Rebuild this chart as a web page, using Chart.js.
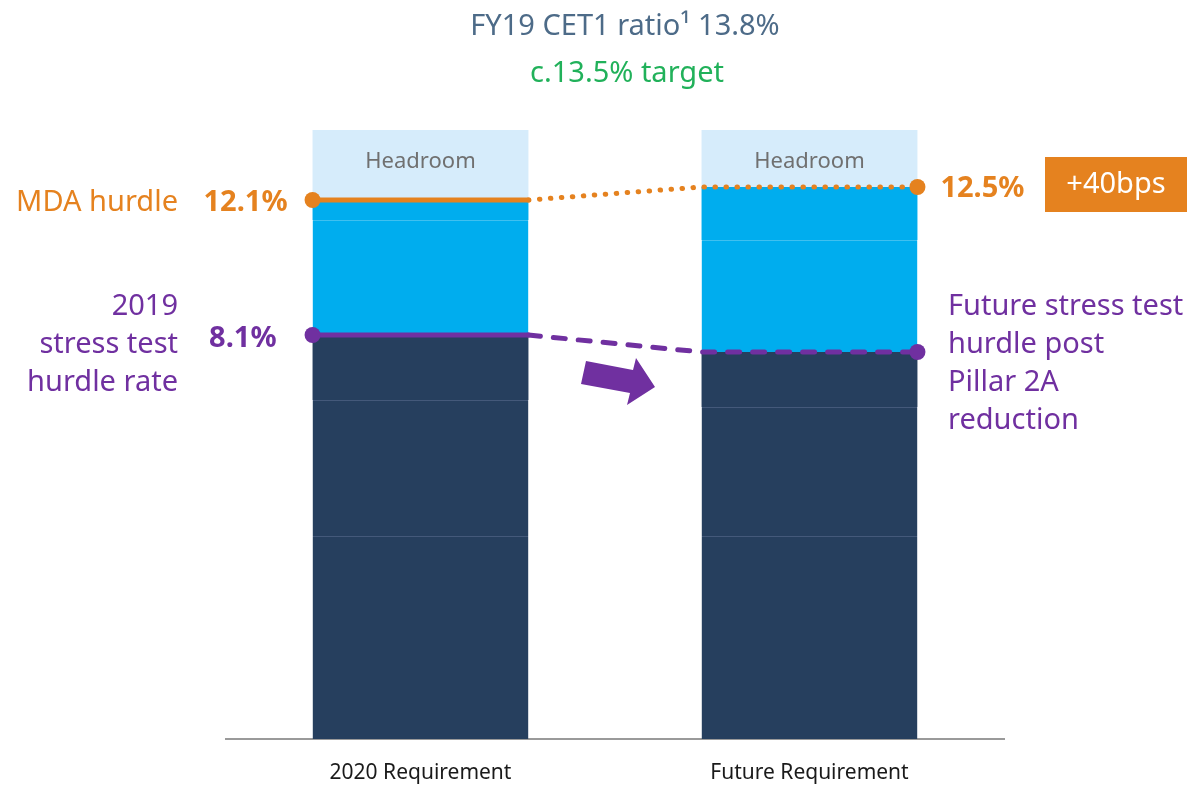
<!DOCTYPE html>
<html>
<head>
<meta charset="utf-8">
<script src="https://cdn.jsdelivr.net/npm/chart.js@4.4.1/dist/chart.umd.min.js"></script>
<style>
  html, body { margin: 0; padding: 0; background: #fff; }
</style>
</head>
<body>
<canvas id="capital-chart" width="1187" height="786"></canvas>
<script>
const categories = ['2020 Requirement', 'Future Requirement'];

// stacked segment heights, bottom to top (illustrative units, chart is not to scale)
const baseA = [20.3, 20.3];
const baseB = [13.6, 12.9];
const baseC = [6.5, 5.5];
const bufferA = [11.5, 11.2];
const bufferB = [2.0, 5.3];
const headroom = [7.0, 5.7];

// hurdle labels
const mdaHurdle = [12.1, 12.5];
const stressHurdle = [8.1, null];
const cet1Ratio = 13.8;
const cet1Target = 13.5;
const mdaChangeBps = 40;

const FONT = "'Noto Sans', sans-serif";
const NAVY = '#263f5e';
const BLUE = '#00adee';
const PALE = '#d6ecfb';
const ORANGE = '#e5821f';
const PURPLE = '#7030a0';

const barPct = 0.555;
const half = barPct / 2;

const stressTop = categories.map((c, i) => baseA[i] + baseB[i] + baseC[i]);
const mdaTop = stressTop.map((v, i) => v + bufferA[i] + bufferB[i]);
const yMax = Math.max(...mdaTop.map((v, i) => v + headroom[i]));

function edgePoints(vals) {
    return [
        { x: -half, y: vals[0] },
        { x: half, y: vals[0] },
        { x: 1 - half, y: vals[1] },
        { x: 1 + half, y: vals[1] }
    ];
}

function barSet(label, data, color, sepColor) {
    return {
        label,
        data,
        backgroundColor: color,
        borderColor: sepColor || color,
        borderWidth: { top: sepColor ? 1 : 0, right: 0, bottom: 0, left: 0 },
        borderSkipped: 'start',
        grouped: false,
        barPercentage: barPct,
        categoryPercentage: 1,
        order: 2
    };
}

function hurdleLine(label, vals, color, dash) {
    return {
        type: 'line',
        label,
        data: edgePoints(vals),
        xAxisID: 'xl',
        yAxisID: 'yl',
        borderColor: color,
        borderWidth: 5,
        borderCapStyle: 'round',
        pointRadius: [8, 0, 0, 8],
        pointBackgroundColor: color,
        pointBorderWidth: 0,
        tension: 0,
        order: 0,
        segment: {
            borderDash: ctx => ctx.p0DataIndex === 0 ? [] : dash
        }
    };
}

function text(ctx, str, x, y, opts) {
    ctx.save();
    ctx.font = (opts.weight || 'normal') + ' ' + opts.size + 'px ' + FONT;
    ctx.fillStyle = opts.color;
    ctx.textAlign = opts.align || 'left';
    ctx.textBaseline = 'alphabetic';
    ctx.fillText(str, x, y);
    ctx.restore();
}

const annotations = {
    id: 'annotations',
    afterDraw(chart) {
        const { ctx, chartArea } = chart;
        const bars = chart.getDatasetMeta(5).data;
        const mda = chart.getDatasetMeta(6).data;
        const stress = chart.getDatasetMeta(7).data;
        const midX = (chartArea.left + chartArea.right) / 2;

        // header
        text(ctx, 'FY19 CET1 ratio\u00B9 ' + cet1Ratio.toFixed(1) + '%', midX + 10, 35, { size: 29, color: '#4d6b88', align: 'center' });
        text(ctx, 'c.' + cet1Target.toFixed(1) + '% target', midX + 12, 82, { size: 29, color: '#21b15a', align: 'center' });

        // headroom labels
        bars.forEach(b => {
            text(ctx, 'Headroom', b.x, chartArea.top + 38, { size: 22, color: '#707070', align: 'center' });
        });

        // left side: MDA and stress labels
        const m0 = mda[0], s0 = stress[0];
        text(ctx, 'MDA hurdle', 178, m0.y + 11, { size: 29, color: ORANGE, align: 'right' });
        text(ctx, mdaHurdle[0].toFixed(1) + '%', m0.x - 25, m0.y + 11, { size: 29, weight: 'bold', color: ORANGE, align: 'right' });
        text(ctx, stressHurdle[0].toFixed(1) + '%', m0.x - 36, s0.y + 12, { size: 29, weight: 'bold', color: PURPLE, align: 'right' });
        ['2019', 'stress test', 'hurdle rate'].forEach((line, i) => {
            text(ctx, line, 178, s0.y - 20 + i * 38, { size: 29, color: PURPLE, align: 'right' });
        });

        // right side
        const m3 = mda[3], s3 = stress[3];
        text(ctx, mdaHurdle[1].toFixed(1) + '%', m3.x + 23, m3.y + 10, { size: 29, weight: 'bold', color: ORANGE });
        ctx.save();
        ctx.fillStyle = ORANGE;
        ctx.fillRect(1045, m3.y - 30, 142, 55);
        ctx.restore();
        text(ctx, '+' + mdaChangeBps + 'bps', 1116, m3.y + 6, { size: 29, color: '#fff', align: 'center' });
        ['Future stress test', 'hurdle post', 'Pillar 2A', 'reduction'].forEach((line, i) => {
            text(ctx, line, 948, s3.y - 37 + i * 38, { size: 29, color: PURPLE });
        });

        // arrow between the bars
        const ax = (bars[0].x + bars[1].x) / 2;
        const ay = s0.y;
        const pts = [[-29, 26], [18, 35], [21, 23], [40, 52], [12, 70], [15, 58], [-34, 49]];
        ctx.save();
        ctx.fillStyle = PURPLE;
        ctx.beginPath();
        pts.forEach((p, i) => {
            if (i === 0) ctx.moveTo(ax + p[0], ay + p[1]);
            else ctx.lineTo(ax + p[0], ay + p[1]);
        });
        ctx.closePath();
        ctx.fill();
        ctx.restore();
    }
};

new Chart(document.getElementById('capital-chart').getContext('2d'), {
    type: 'bar',
    data: {
        labels: categories,
        datasets: [
            barSet('Base A', baseA, NAVY, '#44597a'),
            barSet('Base B', baseB, NAVY, '#44597a'),
            barSet('Base C', baseC, NAVY, null),
            barSet('Buffer A', bufferA, BLUE, '#3fc0f0'),
            barSet('Buffer B', bufferB, BLUE, null),
            barSet('Headroom', headroom, PALE, null),
            hurdleLine('MDA hurdle', mdaTop, ORANGE, [0.5, 10.5]),
            hurdleLine('Stress test hurdle', stressTop, PURPLE, [12, 13])
        ]
    },
    options: {
        responsive: false,
        animation: false,
        layout: { padding: { left: 226, right: 183, top: 130, bottom: 2 } },
        plugins: {
            legend: { display: false },
            tooltip: { enabled: false }
        },
        scales: {
            x: {
                stacked: true,
                offset: true,
                grid: { display: false, drawTicks: false },
                border: { display: true, color: '#9a9a9a', width: 2 },
                ticks: { color: '#1a1a1a', font: { family: FONT, size: 21 }, padding: 21 },
                afterFit: scale => { scale.height = 45; }
            },
            y: { stacked: true, display: false, min: 0, max: yMax },
            xl: { type: 'linear', display: false, offset: false, min: -0.5, max: 1.5 },
            yl: { type: 'linear', display: false, min: 0, max: yMax }
        }
    },
    plugins: [annotations]
});
</script>
</body>
</html>
